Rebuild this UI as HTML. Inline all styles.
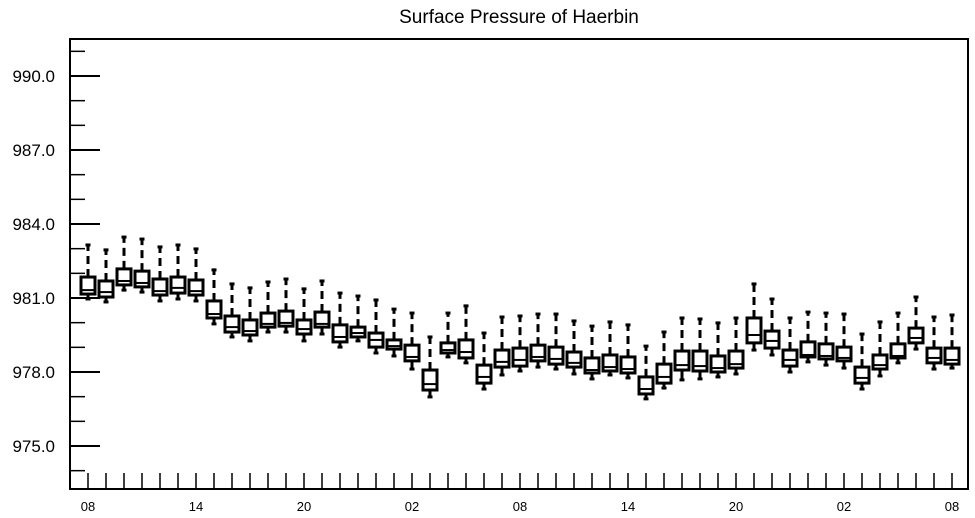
<!DOCTYPE html>
<html><head><meta charset="utf-8"><style>
html,body{margin:0;padding:0;background:#fff;}
svg{display:block;font-family:"Liberation Sans",Helvetica,Arial,sans-serif;}
</style></head><body>
<svg id="chart" width="975" height="518" viewBox="0 0 975 518">
<text x="519" y="23" text-anchor="middle" font-size="19">Surface Pressure of Haerbin</text>
<g id="marks"></g>
<g id="axes"></g>
</svg>
<script>
const hours = ["08","09","10","11","12","13","14","15","16","17","18","19","20","21","22","23","00","01","02","03","04","05","06","07","08","09","10","11","12","13","14","15","16","17","18","19","20","21","22","23","00","01","02","03","04","05","06","07","08"];
const whiskerHigh = [983.15,982.95,983.47,983.39,983.07,983.15,982.99,982.14,981.57,981.41,981.65,981.77,981.37,981.69,981.20,981.08,980.92,980.55,980.39,979.42,980.39,980.68,979.58,980.23,980.27,980.35,980.35,980.07,979.86,980.03,979.91,979.05,979.62,980.19,980.15,979.99,980.19,981.57,980.96,980.19,980.43,980.39,980.35,979.54,980.03,980.39,981.04,980.23,980.31];
const q3 = [981.85,981.69,982.18,982.09,981.77,981.85,981.73,980.88,980.27,980.11,980.39,980.47,980.11,980.43,979.91,979.82,979.58,979.30,979.09,978.08,979.18,979.30,978.28,978.89,978.97,979.09,979.01,978.81,978.57,978.69,978.61,977.80,978.32,978.85,978.85,978.65,978.85,980.19,979.66,978.89,979.22,979.14,979.01,978.20,978.69,979.14,979.78,978.97,978.97];
const median = [981.32,981.24,981.69,981.61,981.28,981.41,981.28,980.35,979.82,979.66,979.95,979.99,979.74,979.95,979.42,979.58,979.30,979.05,978.61,977.51,978.89,978.81,977.80,978.41,978.49,978.61,978.53,978.37,978.08,978.20,978.12,977.31,977.80,978.28,978.24,978.16,978.32,979.50,979.26,978.49,978.69,978.65,978.57,977.76,978.28,978.65,979.38,978.57,978.49];
const q1 = [981.16,981.04,981.53,981.45,981.12,981.20,981.12,980.19,979.62,979.50,979.82,979.86,979.54,979.82,979.22,979.42,979.01,978.93,978.45,977.27,978.77,978.57,977.55,978.20,978.24,978.45,978.32,978.20,977.96,978.04,977.96,977.11,977.55,978.08,978.04,978.00,978.16,979.18,978.97,978.24,978.61,978.53,978.45,977.55,978.12,978.57,979.18,978.37,978.32];
const whiskerLow = [980.96,980.84,981.32,981.24,980.88,980.96,980.88,979.95,979.42,979.26,979.62,979.62,979.26,979.54,979.01,979.26,978.77,978.65,978.12,976.99,978.61,978.37,977.31,977.88,978.04,978.20,978.12,977.92,977.72,977.88,977.76,976.91,977.35,977.68,977.72,977.80,977.92,978.89,978.69,978.00,978.41,978.28,978.16,977.31,977.84,978.37,978.93,978.12,978.16];
const yTickLabels = ["975.0","978.0","981.0","984.0","987.0","990.0"];
const yTickValues = [975,978,981,984,987,990];

const NS="http://www.w3.org/2000/svg";
const L=70,R=968,T=39,B=489;
function yScale(v){return 372-(v-978)*(74/3);}
function xScale(i){return 88+i*18;}
function mk(tag,attrs,parent){const e=document.createElementNS(NS,tag);for(const k in attrs)e.setAttribute(k,attrs[k]);parent.appendChild(e);return e;}
const marks=document.getElementById('marks'), axes=document.getElementById('axes');

hours.forEach((h,i)=>{
  const g=mk('g',{},marks);
  
  
  const x=xScale(i), hw=7;
  const yh=yScale(whiskerHigh[i]), y3=yScale(q3[i]), ym=yScale(median[i]), y1=yScale(q1[i]), yl=yScale(whiskerLow[i]);
  const uw=mk('line',{x1:x,x2:x,y1:y3,y2:yh,stroke:'#000','stroke-width':3,'stroke-dasharray':'8 5'},g);
  
  
  const uc=mk('line',{x1:x-2.5,x2:x+2.5,y1:yh,y2:yh,stroke:'#000','stroke-width':3},g);
  
  
  const lw=mk('line',{x1:x,x2:x,y1:y1,y2:yl,stroke:'#000','stroke-width':3},g);
  
  
  const lc=mk('line',{x1:x-2.5,x2:x+2.5,y1:yl,y2:yl,stroke:'#000','stroke-width':3},g);
  
  
  const rc=mk('rect',{x:x-hw,y:y3,width:hw*2,height:Math.max(1,y1-y3),fill:'#fff',stroke:'#000','stroke-width':3},g);
  
  
  const md=mk('line',{x1:x-hw,x2:x+hw,y1:ym,y2:ym,stroke:'#000','stroke-width':2},g);
  
  
});

// frame
const fr=mk('rect',{x:L,y:T,width:R-L,height:B-T,fill:'none',stroke:'#000','stroke-width':2},axes);


// y minor ticks
for(let v=974;v<=991;v++){
  const y=yScale(v); if(y<T||y>B) continue;
  const major=yTickValues.indexOf(v)>=0;
  const t=mk('line',{x1:L,x2:L+(major?30:15),y1:y,y2:y,stroke:'#000','stroke-width':major?2:1.5},axes);
  
  
}
yTickValues.forEach((v,i)=>{
  const t=mk('text',{x:55,y:yScale(v)+6,'text-anchor':'end','font-size':17},axes);
  t.textContent=yTickLabels[i];
  
  
});
hours.forEach((h,i)=>{
  const x=xScale(i);
  const t=mk('line',{x1:x,x2:x,y1:B,y2:B-16,stroke:'#000','stroke-width':1.5},axes);
  
  
  if(i%6===0){
    const lb=mk('text',{x:x,y:511,'text-anchor':'middle','font-size':13},axes);
    lb.textContent=h;
    
    
  }
});
</script>
</body></html>
